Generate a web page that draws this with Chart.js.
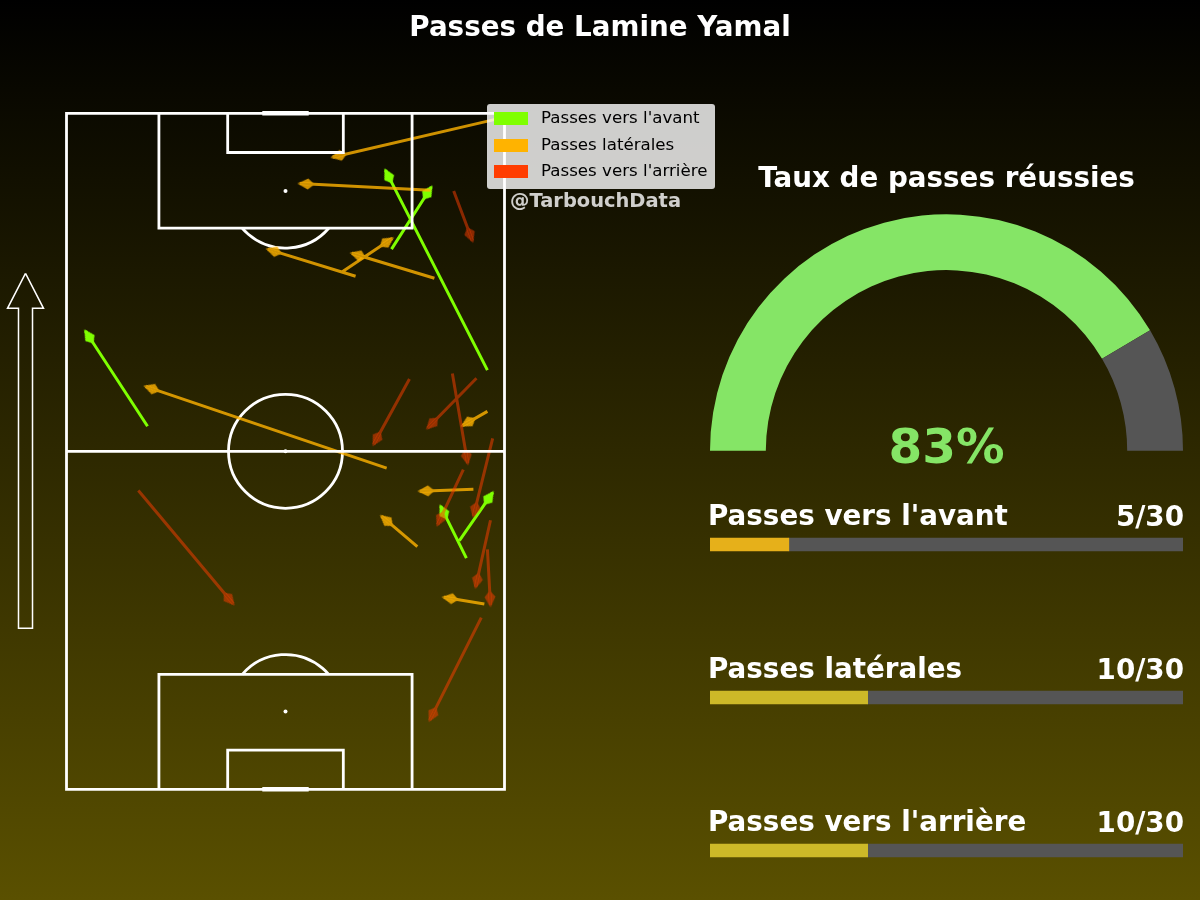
<!DOCTYPE html>
<html lang="fr">
<head>
<meta charset="utf-8">
<title>Passes de Lamine Yamal</title>
<script src="https://cdn.jsdelivr.net/npm/chart.js@4"></script>
<style>
html,body{margin:0;padding:0;width:1200px;height:900px;overflow:hidden;}
body{position:relative;background:linear-gradient(to bottom,#000000 0%,#5a5000 100%);font-family:"DejaVu Sans",sans-serif;}
canvas{position:absolute;}
.t{position:absolute;white-space:nowrap;line-height:1;font-weight:bold;color:#fff;}
#legend{position:absolute;left:487px;top:104px;width:228px;height:85px;background:rgba(255,255,255,.8);border-radius:3px;}
#legend div{position:absolute;left:54px;font-size:16.67px;line-height:1;color:#000;white-space:nowrap;}
#legend i{position:absolute;left:7px;width:34px;height:13px;}
</style>
</head>
<body>
<canvas id="pitch" width="1200" height="900" style="left:0;top:0"></canvas>
<canvas id="gauge" width="473" height="237" style="left:710px;top:214px"></canvas>
<canvas id="bars" width="473" height="459" style="left:710px;top:468px"></canvas>
<div class="t" id="title" style="left:0;width:1200px;text-align:center;top:13px;font-size:27.78px">Passes de Lamine Yamal</div>
<div class="t" style="left:510px;top:191px;font-size:19.44px;color:rgba(255,255,255,.8)">@TarbouchData</div>
<div id="legend"></div>
<div class="t" style="left:0;width:1893px;text-align:center;top:164px;font-size:27.78px">Taux de passes réussies</div>
<div class="t" id="pct" style="left:0;width:1893px;text-align:center;top:422px;font-size:48.5px;color:#85e566">83%</div>
<div id="labels"></div>
<script>
// Passes (coordonnées Opta 0-100 : largeur, longueur)
const forwardStartX=[96.1,74.2,18.5,89.7,91.3];
const forwardStartY=[62.0,79.9,53.7,36.8,34.2];
const forwardEndX=[72.8,83.3,4.3,97.3,85.4];
const forwardEndY=[91.6,89.1,67.8,43.9,41.9];
const lateralStartX=[97.9,83.1,66.0,62.8,84.0,73.1,96.1,92.9,80.1,95.4];
const lateralStartY=[99.1,88.6,75.9,76.5,75.6,47.5,55.9,44.4,35.9,27.4];
const lateralEndX=[60.7,53.2,45.9,74.4,65.1,18.0,90.4,80.6,71.9,86.1];
const lateralEndY=[93.5,89.6,79.9,81.5,79.3,59.6,53.8,44.1,40.4,28.4];
const backwardStartX=[88.4,78.3,93.6,88.1,97.3,90.6,96.8,96.1,94.7,16.4];
const backwardStartY=[88.5,60.7,60.8,61.5,51.9,47.3,39.8,35.5,25.4,44.2];
const backwardEndX=[92.7,70.1,82.4,91.6,92.9,84.7,93.4,96.8,82.9,38.1];
const backwardEndY=[81.1,51.0,53.4,48.2,40.4,39.1,29.9,27.2,10.2,27.4];
// Légende, taux de réussite et compteurs
const categories=["Passes vers l'avant","Passes latérales","Passes vers l'arrière"];
const legendColors=["#7fff00","#ffb300","#ff3d00"];
const successRate=[83,17];
const completed=[5,10,10];
const totals=[30,30,30];
const barColors=["#e6b01a","#cdb928","#cdb928"];
// Terrain (coordonnées Opta, null = coupure)
const pitchX=[0,100,100,0,0,null,0,100,null,21.1,21.1,78.9,78.9,null,36.8,36.8,63.2,63.2,null,21.1,21.1,78.9,78.9,null,36.8,36.8,63.2,63.2];
const pitchY=[0,0,100,100,0,null,50,50,null,100,83,83,100,null,100,94.2,94.2,100,null,0,17,17,0,null,0,5.8,5.8,0];
const goalX=[44.7,55.3,null,44.7,55.3];
const goalY=[100,100,null,0,0];
const spotX=[50,50,50];
const spotY=[88.5,50,11.5];
const directionX=[-9.36,-5.25,-7.76,-7.76,-10.96,-10.96,-13.47,-9.36];
const directionY=[76.33,71.15,71.15,23.82,23.82,71.15,71.15,76.33];

Chart.defaults.font.family='"DejaVu Sans",sans-serif';
Chart.defaults.devicePixelRatio=1;

function zip(xs,ys){return xs.map((x,i)=>({x:x,y:ys[i]}));}
function passes(sx,sy,ex,ey){const o=[];sx.forEach((v,i)=>{o.push({x:v,y:sy[i]},{x:ex[i],y:ey[i]},{x:null,y:null});});return o;}
function kite(color,hollow){
  const c=document.createElement('canvas');c.width=36;c.height=36;
  const g=c.getContext('2d');g.fillStyle=color;g.beginPath();
  g.moveTo(20,18);g.lineTo(9.5,12.5);g.lineTo(3,18);g.lineTo(9.5,23.5);g.closePath();g.fill();
  if(hollow){g.globalCompositeOperation='destination-out';g.fillStyle='#000';g.fillRect(0,17,18,2);}
  return c;
}
function passDataset(label,color,data,hollow){
  const head=kite(color,hollow);
  return {label:label,data:data,showLine:true,borderColor:color,borderWidth:3,borderCapStyle:'butt',spanGaps:false,
    pointStyle:head,
    pointRadius:c=>c.dataIndex%3===1?6:0,pointHoverRadius:0,
    rotation:c=>{
      if(c.dataIndex%3!==1)return 0;
      const s=c.chart.scales,d=c.dataset.data,a=d[c.dataIndex-1],b=d[c.dataIndex];
      if(!s.x||!s.y)return 0;
      return Math.atan2(s.y.getPixelForValue(b.y)-s.y.getPixelForValue(a.y),s.x.getPixelForValue(b.x)-s.x.getPixelForValue(a.x))*180/Math.PI;
    }};
}
const arcs={id:'arcs',beforeDatasetsDraw(ch){
  const {ctx,scales:{x,y}}=ch;
  const r=57,px=x.getPixelForValue(50);
  ctx.save();ctx.strokeStyle='#fff';ctx.lineWidth=2.8;
  ctx.beginPath();ctx.arc(px,y.getPixelForValue(50),r,0,Math.PI*2);ctx.stroke();
  const top=y.getPixelForValue(88.5),bot=y.getPixelForValue(11.5),edgeT=y.getPixelForValue(83),edgeB=y.getPixelForValue(17);
  const aT=Math.asin((edgeT-top)/r);
  ctx.beginPath();ctx.arc(px,top,r,aT,Math.PI-aT);ctx.stroke();
  const aB=Math.asin((bot-edgeB)/r);
  ctx.beginPath();ctx.arc(px,bot,r,Math.PI+aB,-aB);ctx.stroke();
  ctx.restore();
}};
new Chart(document.getElementById('pitch'),{
  type:'scatter',plugins:[arcs],
  data:{datasets:[
    {label:'Terrain',data:zip(pitchX,pitchY),showLine:true,borderColor:'#fff',borderWidth:2.8,pointRadius:0,spanGaps:false,borderJoinStyle:'miter',borderCapStyle:'square'},
    {label:'Buts',data:zip(goalX,goalY),showLine:true,borderColor:'#fff',borderWidth:4.5,pointRadius:0,spanGaps:false},
    {label:'Points',data:zip(spotX,spotY),showLine:false,pointRadius:2,backgroundColor:'#fff',borderWidth:0},
    {label:'Sens du jeu',data:zip(directionX,directionY),showLine:true,borderColor:'#fff',borderWidth:1.5,pointRadius:0,borderJoinStyle:'miter'},
    passDataset(categories[2],'rgba(255,61,0,.5)',passes(backwardStartX,backwardStartY,backwardEndX,backwardEndY),true),
    passDataset(categories[1],'rgba(255,179,0,.8)',passes(lateralStartX,lateralStartY,lateralEndX,lateralEndY),true),
    passDataset(categories[0],'#7fff00',passes(forwardStartX,forwardStartY,forwardEndX,forwardEndY),false)
  ]},
  options:{responsive:false,animation:false,events:[],layout:{padding:0,autoPadding:false},
    plugins:{legend:{display:false},tooltip:{enabled:false}},
    scales:{x:{type:'linear',display:false,bounds:'data',min:-66.5/4.38,max:(1200-66.5)/4.38},
            y:{type:'linear',display:false,bounds:'data',min:-(900-789.3)/6.76,max:789.3/6.76}}}
});
new Chart(document.getElementById('gauge'),{
  type:'doughnut',
  data:{labels:['Réussies','Manquées'],datasets:[{data:successRate,backgroundColor:['#85e566','#555555'],borderWidth:0}]},
  options:{responsive:false,animation:false,events:[],rotation:-90,circumference:180,cutout:'76.4%',
    layout:{padding:0},plugins:{legend:{display:false},tooltip:{enabled:false}}}
});
new Chart(document.getElementById('bars'),{
  type:'bar',
  data:{labels:categories,datasets:[
    {data:completed,backgroundColor:barColors,borderWidth:0,barThickness:13,stack:'s'},
    {data:totals.map((t,i)=>t-completed[i]),backgroundColor:'#555555',borderWidth:0,barThickness:13,stack:'s'}
  ]},
  options:{indexAxis:'y',responsive:false,animation:false,events:[],layout:{padding:0},
    plugins:{legend:{display:false},tooltip:{enabled:false}},
    scales:{x:{display:false,stacked:true,min:0,max:30},y:{display:false,stacked:true}}}
});
const lg=document.getElementById('legend');
categories.forEach((n,i)=>{
  const s=document.createElement('i');s.style.top=(8+i*26.5)+'px';s.style.background=legendColors[i];lg.appendChild(s);
  const d=document.createElement('div');d.textContent=n;d.style.top=(6+i*26.5)+'px';lg.appendChild(d);
});
const lb=document.getElementById('labels');
categories.forEach((n,i)=>{
  const a=document.createElement('div');a.className='t';a.textContent=n;
  a.style.cssText='left:708px;top:'+(502+i*153)+'px;font-size:27.78px';lb.appendChild(a);
  const b=document.createElement('div');b.className='t';b.textContent=completed[i]+'/'+totals[i];
  b.style.cssText='right:16px;top:'+(503+i*153)+'px;font-size:27.78px';lb.appendChild(b);
});
</script>
</body>
</html>
